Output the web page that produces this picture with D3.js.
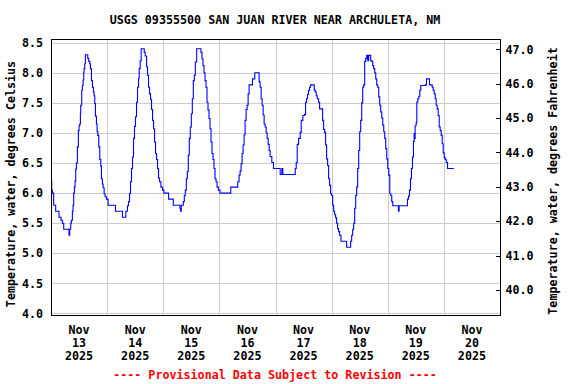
<!DOCTYPE html>
<html>
<head>
<meta charset="utf-8">
<script src="https://cdn.jsdelivr.net/npm/d3@7"></script>
<style>
  html, body { margin: 0; padding: 0; background: #fff; }
  svg text { font-family: "DejaVu Sans Mono", "Liberation Mono", monospace; font-weight: bold; font-size: 11.7px; }
</style>
</head>
<body>
<div id="chart"></div>
<script>
// Water temperature readings: [hours since Nov 13 2025 00:00, degrees C]
const readings = [
  [0, 6.2], [0.29, 6.05], [0.57, 6.0], [1.14, 5.8], [2.0, 5.7], [3.43, 5.6], [4.29, 5.55], [4.86, 5.5],
  [5.43, 5.4], [7.29, 5.4], [7.71, 5.3], [8.0, 5.4], [8.43, 5.5], [8.71, 5.55], [9.14, 5.7], [9.43, 5.8],
  [9.71, 6.0], [10.0, 6.1], [10.29, 6.2], [10.57, 6.4], [10.86, 6.5], [11.29, 6.77], [11.71, 7.04], [12.0, 7.12],
  [12.29, 7.15], [12.57, 7.32], [12.71, 7.46], [13.14, 7.71], [13.43, 7.79], [13.71, 7.88], [14.0, 8.01], [14.14, 8.07],
  [14.43, 8.15], [14.71, 8.3], [15.43, 8.3], [15.71, 8.24], [16.14, 8.19], [16.57, 8.15], [16.86, 8.07], [17.29, 7.87],
  [17.71, 7.76], [18.14, 7.68], [18.43, 7.62], [18.71, 7.49], [19.0, 7.28], [19.43, 7.15], [19.71, 7.02], [20.0, 6.96],
  [20.43, 6.77], [20.86, 6.56], [21.29, 6.45], [21.57, 6.24], [22.0, 6.15], [22.29, 6.09], [22.71, 5.99], [23.14, 5.94],
  [23.71, 5.9], [24.43, 5.8], [27.43, 5.8], [27.57, 5.7], [30.29, 5.7], [30.57, 5.6], [31.71, 5.6], [32.0, 5.7],
  [32.71, 5.79], [33.14, 5.86], [33.57, 5.99], [34.0, 6.19], [34.43, 6.41], [34.86, 6.6], [35.29, 6.91], [35.71, 7.11],
  [36.14, 7.27], [36.57, 7.51], [37.0, 7.76], [37.43, 7.91], [37.71, 8.07], [38.14, 8.2], [38.57, 8.4], [39.43, 8.4],
  [39.86, 8.34], [40.29, 8.28], [40.86, 8.1], [41.29, 7.96], [41.71, 7.76], [42.14, 7.65], [42.57, 7.56], [43.0, 7.39],
  [43.43, 7.21], [43.86, 7.07], [44.29, 6.85], [44.71, 6.66], [45.14, 6.56], [45.57, 6.41], [46.0, 6.25], [46.43, 6.19],
  [47.0, 6.1], [47.71, 6.05], [48.29, 6.0], [50.0, 6.0], [50.29, 5.9], [52.0, 5.9], [52.29, 5.8], [54.86, 5.8],
  [55.14, 5.75], [55.43, 5.7], [55.71, 5.8], [56.57, 5.86], [57.0, 5.96], [57.43, 6.05], [57.86, 6.24], [58.29, 6.36],
  [58.71, 6.63], [59.14, 6.91], [59.57, 7.1], [60.0, 7.32], [60.43, 7.57], [60.86, 7.87], [61.29, 7.96], [61.71, 8.18],
  [62.29, 8.4], [63.71, 8.4], [64.14, 8.34], [64.57, 8.23], [65.0, 8.12], [65.43, 8.0], [65.86, 7.87], [66.29, 7.76],
  [66.71, 7.51], [67.14, 7.38], [67.57, 7.24], [68.0, 7.07], [68.43, 6.85], [68.86, 6.66], [69.29, 6.56], [69.71, 6.41],
  [70.14, 6.24], [70.57, 6.19], [71.0, 6.1], [71.57, 6.05], [72.29, 6.0], [76.57, 6.0], [76.86, 6.1], [79.43, 6.1],
  [79.86, 6.19], [80.43, 6.3], [80.86, 6.37], [81.29, 6.49], [81.71, 6.66], [82.14, 6.8], [82.57, 6.97], [83.0, 7.21],
  [83.43, 7.39], [83.86, 7.46], [84.29, 7.65], [84.71, 7.8], [85.86, 7.8], [86.14, 7.9], [86.86, 7.9], [87.14, 8.0],
  [88.57, 8.0], [89.0, 7.85], [89.43, 7.76], [89.86, 7.57], [90.29, 7.46], [90.71, 7.3], [91.14, 7.15], [91.57, 7.1],
  [92.0, 7.0], [92.43, 6.91], [92.86, 6.81], [93.29, 6.71], [93.71, 6.61], [94.43, 6.51], [95.14, 6.41], [97.71, 6.41],
  [98.0, 6.31], [98.43, 6.31], [98.71, 6.41], [99.0, 6.41], [99.14, 6.31], [104.0, 6.31], [104.43, 6.41], [104.86, 6.51],
  [105.29, 6.81], [105.86, 6.91], [106.57, 7.01], [107.0, 7.21], [107.71, 7.29], [108.43, 7.31], [108.86, 7.51], [109.29, 7.57],
  [109.71, 7.64], [110.14, 7.71], [110.57, 7.76], [111.0, 7.8], [112.29, 7.8], [112.57, 7.71], [113.0, 7.68], [113.43, 7.62],
  [113.86, 7.57], [114.43, 7.51], [114.86, 7.4], [115.71, 7.4], [116.14, 7.21], [116.57, 7.06], [117.0, 7.01], [117.43, 6.8],
  [117.86, 6.57], [118.29, 6.46], [118.71, 6.24], [119.14, 6.13], [119.57, 5.99], [120.0, 5.96], [120.43, 5.8], [120.86, 5.7],
  [121.29, 5.64], [121.71, 5.59], [122.14, 5.5], [122.57, 5.41], [123.0, 5.36], [123.43, 5.3], [124.0, 5.2], [125.86, 5.2],
  [126.43, 5.1], [127.71, 5.1], [128.14, 5.2], [128.57, 5.3], [129.0, 5.4], [129.43, 5.5], [129.86, 5.75], [130.29, 5.96],
  [130.71, 6.1], [131.14, 6.41], [131.57, 6.71], [132.0, 7.02], [132.43, 7.21], [132.86, 7.5], [133.29, 7.76], [133.71, 7.8],
  [134.14, 8.19], [134.57, 8.24], [135.0, 8.29], [135.43, 8.2], [135.86, 8.29], [136.29, 8.29], [136.71, 8.2], [137.14, 8.19],
  [137.57, 8.12], [138.0, 8.07], [138.43, 8.0], [138.86, 7.9], [139.29, 7.8], [139.71, 7.76], [140.14, 7.6], [140.57, 7.46],
  [141.0, 7.35], [141.43, 7.25], [141.86, 7.13], [142.29, 7.02], [142.71, 6.91], [143.14, 6.74], [143.57, 6.57], [144.0, 6.41],
  [144.43, 6.3], [144.86, 5.99], [145.29, 5.96], [145.71, 5.86], [146.14, 5.79], [148.29, 5.79], [148.57, 5.7], [148.86, 5.79],
  [152.0, 5.79], [152.43, 5.9], [152.86, 5.95], [153.29, 6.05], [153.71, 6.24], [154.14, 6.41], [154.57, 6.6], [155.0, 6.86],
  [155.29, 6.99], [155.43, 6.91], [155.71, 7.12], [156.14, 7.17], [156.43, 7.51], [156.86, 7.57], [157.29, 7.61], [157.71, 7.71],
  [158.14, 7.79], [160.14, 7.8], [160.57, 7.9], [161.43, 7.9], [161.86, 7.8], [162.57, 7.8], [163.0, 7.76], [163.43, 7.71],
  [163.86, 7.65], [164.29, 7.57], [164.71, 7.46], [165.14, 7.4], [165.57, 7.29], [166.0, 7.1], [166.43, 7.04], [166.86, 6.96],
  [167.29, 6.82], [167.71, 6.67], [168.14, 6.59], [168.57, 6.56], [169.0, 6.51], [169.57, 6.41], [172.29, 6.41]
];

const dayLabels = [13, 14, 15, 16, 17, 18, 19, 20];
const celsiusTicks = [4.0, 4.5, 5.0, 5.5, 6.0, 6.5, 7.0, 7.5, 8.0, 8.5];
const fahrenheitTicks = [40, 41, 42, 43, 44, 45, 46, 47];

const titleText = 'USGS 09355500 SAN JUAN RIVER NEAR ARCHULETA, NM';
const leftTitle = 'Temperature, water, degrees Celsius';
const rightTitle = 'Temperature, water, degrees Fahrenheit';
const footerText = '---- Provisional Data Subject to Revision ----';

const width = 576, height = 384;
const plot = { left: 51, right: 500, top: 39, bottom: 315 };

const start = new Date(Date.UTC(2025, 10, 13));
const hour = 3600 * 1000;

const x = d3.scaleUtc()
  .domain([start, new Date(Date.UTC(2025, 10, 21))])
  .range([plot.left, plot.right]);

const yC = d3.scaleLinear().domain([3.975, 8.562]).range([plot.bottom, plot.top]);
const yF = d3.scaleLinear().domain([39.273, 47.30]).range([plot.bottom, plot.top]);

const svg = d3.select('#chart')
  .append('svg')
    .attr('width', width)
    .attr('height', height);

// gridlines
const grid = svg.append('g')
  .attr('stroke', '#cccccc')
  .attr('stroke-width', 1)
  .attr('shape-rendering', 'crispEdges');

grid.selectAll('line.h')
  .data(celsiusTicks)
  .join('line')
    .attr('class', 'h')
    .attr('x1', plot.left).attr('x2', plot.right)
    .attr('y1', d => Math.round(yC(d)) + 0.5)
    .attr('y2', d => Math.round(yC(d)) + 0.5);

const dayEdges = dayLabels.slice(1).map(d => new Date(Date.UTC(2025, 10, d)));
grid.selectAll('line.v')
  .data(dayEdges)
  .join('line')
    .attr('class', 'v')
    .attr('y1', plot.top).attr('y2', plot.bottom)
    .attr('x1', d => Math.round(x(d)) + 0.5)
    .attr('x2', d => Math.round(x(d)) + 0.5);

// data line
const line = d3.line()
  .x(d => x(new Date(start.getTime() + d[0] * hour)))
  .y(d => yC(d[1]))
  .curve(d3.curveStepAfter);

svg.append('path')
  .datum(readings)
  .attr('fill', 'none')
  .attr('stroke', '#0000ff')
  .attr('stroke-width', 1.1)
  .attr('d', line);

// frame
svg.append('rect')
  .attr('x', plot.left + 0.5)
  .attr('y', plot.top + 0.5)
  .attr('width', plot.right - plot.left)
  .attr('height', plot.bottom - plot.top)
  .attr('fill', 'none')
  .attr('stroke', '#000')
  .attr('shape-rendering', 'crispEdges');

// left axis labels
svg.append('g')
  .selectAll('text')
  .data(celsiusTicks)
  .join('text')
    .attr('x', 43)
    .attr('y', d => yC(d))
    .attr('dy', '0.35em')
    .attr('text-anchor', 'end')
    .text(d => d3.format('.1f')(d));

// right axis with inward ticks
const rightAxis = svg.append('g')
  .attr('transform', `translate(${plot.right + 0.5},0)`)
  .call(d3.axisRight(yF).tickValues(fahrenheitTicks).tickSize(0).tickPadding(5).tickFormat(d3.format('.1f')));
rightAxis.select('.domain').remove();
rightAxis.selectAll('text')
  .attr('font-family', null).attr('font-size', null)
  .attr('fill', '#000');

svg.append('g')
  .attr('stroke', '#000')
  .attr('shape-rendering', 'crispEdges')
  .selectAll('line')
  .data(fahrenheitTicks)
  .join('line')
    .attr('x1', plot.right - 4).attr('x2', plot.right)
    .attr('y1', d => Math.round(yF(d)) + 0.5)
    .attr('y2', d => Math.round(yF(d)) + 0.5);

// date labels, centred on noon of each day
const dates = svg.append('g')
  .selectAll('text')
  .data(dayLabels)
  .join('text')
    .attr('text-anchor', 'middle')
    .attr('transform', d => `translate(${x(new Date(Date.UTC(2025, 10, d, 12)))},0)`);
dates.append('tspan').attr('x', 0).attr('y', 334).text('Nov');
dates.append('tspan').attr('x', 0).attr('y', 347).text(d => d);
dates.append('tspan').attr('x', 0).attr('y', 360).text('2025');

// titles
svg.append('text')
  .attr('x', 275).attr('y', 23.5)
  .attr('text-anchor', 'middle')
  .text(titleText);

svg.append('text')
  .attr('transform', 'translate(15,184) rotate(-90)')
  .attr('text-anchor', 'middle')
  .text(leftTitle);

svg.append('text')
  .attr('transform', 'translate(557,181) rotate(-90)')
  .attr('text-anchor', 'middle')
  .text(rightTitle);

svg.append('text')
  .attr('x', 275).attr('y', 379)
  .attr('text-anchor', 'middle')
  .attr('fill', '#ff0000')
  .text(footerText);
</script>
</body>
</html>
